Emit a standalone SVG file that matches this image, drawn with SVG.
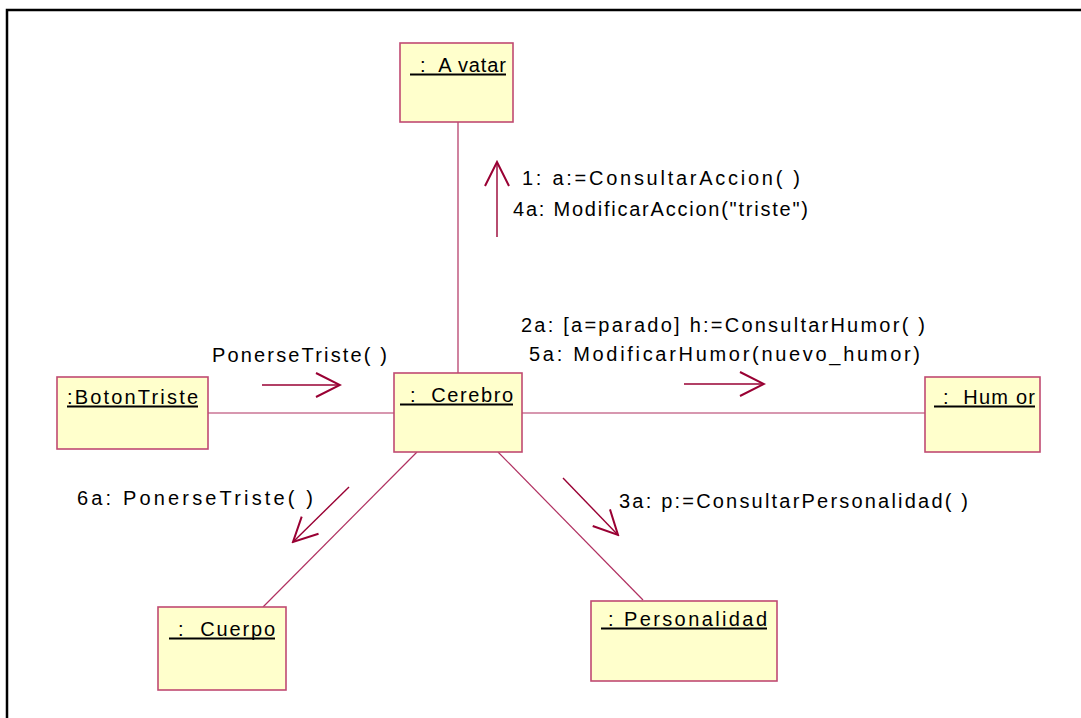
<svg xmlns="http://www.w3.org/2000/svg" width="1081" height="718" viewBox="0 0 1081 718">
  <style>
    .obj rect { fill: #ffffcc; stroke: #c04a72; stroke-width: 1.6; }
    .obj text { font-family: "Liberation Sans", Arial, sans-serif; font-size: 20px; fill: #000; }
    .obj line { stroke: #000; stroke-width: 2; }
    .link { stroke: #b03060; stroke-width: 1.2; fill: none; }
    .msg { stroke: #990033; stroke-width: 1.4; fill: none; }
    .lbl { font-family: "Liberation Sans", Arial, sans-serif; font-size: 20px; fill: #000; }
  </style>
  <defs>
    <!-- open "stick" arrowhead used by the message arrows -->
    <marker id="open" viewBox="0 0 28 28" refX="26" refY="14" markerWidth="28" markerHeight="28" markerUnits="userSpaceOnUse" orient="auto">
      <path d="M2,2 L26,14 L2,26" fill="none" stroke="#990033" stroke-width="2"/>
    </marker>
  </defs>
  <rect x="0" y="0" width="1081" height="718" fill="#fff"/>
  <!-- outer frame -->
  <path d="M7,718 L7,10 L1081,10" fill="none" stroke="#000" stroke-width="2.5"/>

  <g id="connectors">
    <!-- links between objects -->
    <line class="link" x1="458" y1="122" x2="458" y2="373"/>
    <line class="link" x1="208" y1="413" x2="394" y2="413"/>
    <line class="link" x1="522" y1="413" x2="925" y2="413"/>
    <line class="link" x1="417" y1="452" x2="263" y2="607"/>
    <line class="link" x1="498" y1="452" x2="643" y2="600"/>

    <!-- message arrows -->
    <line class="msg" x1="497" y1="237" x2="497" y2="162" marker-end="url(#open)"/>
    <line class="msg" x1="262" y1="385" x2="340" y2="385" marker-end="url(#open)"/>
    <line class="msg" x1="684" y1="384" x2="764" y2="384" marker-end="url(#open)"/>
    <line class="msg" x1="349" y1="487" x2="293" y2="542" marker-end="url(#open)"/>
    <line class="msg" x1="563" y1="478" x2="618" y2="535" marker-end="url(#open)"/>

    <!-- message labels -->
    <text class="lbl" x="522" y="185" textLength="278" lengthAdjust="spacing">1: a:=ConsultarAccion( )</text>
    <text class="lbl" x="513" y="216" textLength="295" lengthAdjust="spacing">4a: ModificarAccion("triste")</text>
    <text class="lbl" x="212" y="362" textLength="175" lengthAdjust="spacing">PonerseTriste( )</text>
    <text class="lbl" x="521" y="332" textLength="404" lengthAdjust="spacing">2a: [a=parado] h:=ConsultarHumor( )</text>
    <text class="lbl" x="529" y="361" textLength="391" lengthAdjust="spacing">5a: ModificarHumor(nuevo_humor)</text>
    <text class="lbl" x="77" y="505" textLength="236" lengthAdjust="spacing">6a: PonerseTriste( )</text>
    <text class="lbl" x="619" y="508" textLength="349" lengthAdjust="spacing">3a: p:=ConsultarPersonalidad( )</text>
  </g>

  <g id="avatar" class="obj">
    <rect x="400" y="43" width="113" height="79"/>
    <text x="420" y="72" textLength="86" lengthAdjust="spacing" xml:space="preserve">:  A vatar</text>
    <line x1="410" y1="74.5" x2="506" y2="74.5"/>
  </g>
  <g id="cerebro" class="obj">
    <rect x="394" y="373" width="128" height="79"/>
    <text x="410" y="402" textLength="103" lengthAdjust="spacing" xml:space="preserve">:  Cerebro</text>
    <line x1="400" y1="404.5" x2="513" y2="404.5"/>
  </g>
  <g id="botontriste" class="obj">
    <rect x="57" y="377" width="151" height="72"/>
    <text x="67" y="404" textLength="131" lengthAdjust="spacing">:BotonTriste</text>
    <line x1="67" y1="406.5" x2="198" y2="406.5"/>
  </g>
  <g id="humor" class="obj">
    <rect x="925" y="377" width="115" height="75"/>
    <text x="943" y="404" textLength="92" lengthAdjust="spacing" xml:space="preserve">:  Hum or</text>
    <line x1="934" y1="406.5" x2="1035" y2="406.5"/>
  </g>
  <g id="cuerpo" class="obj">
    <rect x="158" y="607" width="128" height="83"/>
    <text x="178" y="636" textLength="97" lengthAdjust="spacing" xml:space="preserve">:  Cuerpo</text>
    <line x1="169" y1="638.5" x2="275" y2="638.5"/>
  </g>
  <g id="personalidad" class="obj">
    <rect x="591" y="601" width="186" height="80"/>
    <text x="608" y="626" textLength="159" lengthAdjust="spacing" xml:space="preserve">: Personalidad</text>
    <line x1="601" y1="628.5" x2="767" y2="628.5"/>
  </g>
</svg>
